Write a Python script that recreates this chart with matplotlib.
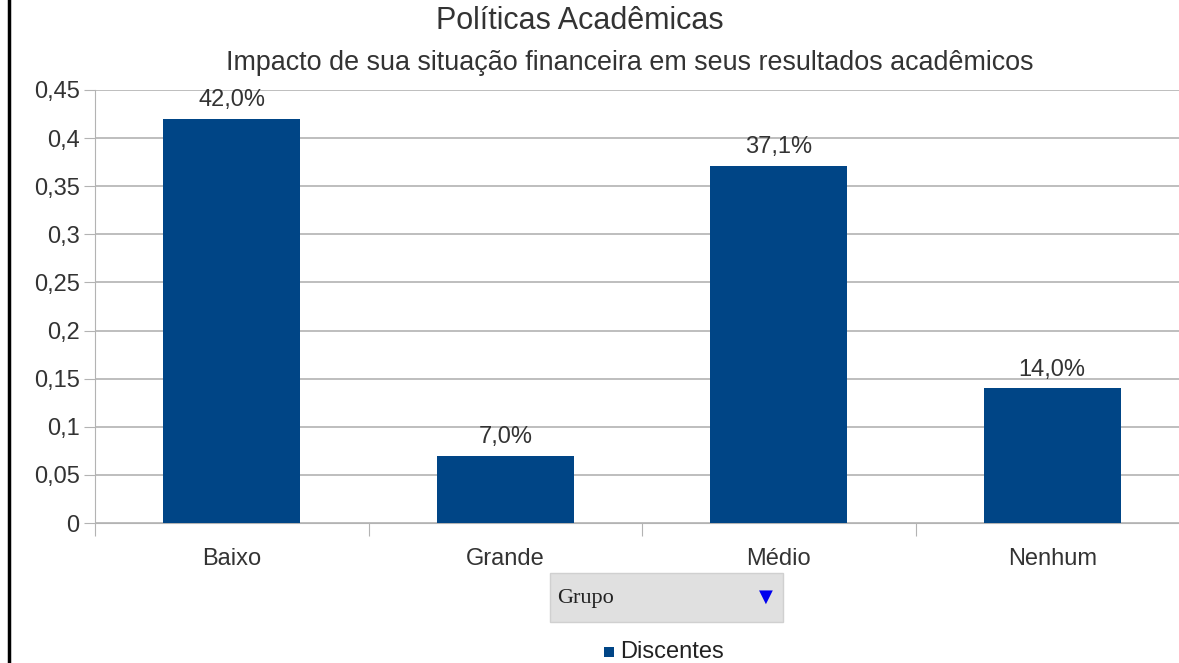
import matplotlib.pyplot as plt
from matplotlib.patches import Rectangle
from matplotlib.lines import Line2D

categorias = ['Baixo', 'Grande', 'Médio', 'Nenhum']
valores = [0.42, 0.07, 0.371, 0.14]
rotulos = ['42,0%', '7,0%', '37,1%', '14,0%']
yticks = [0, 0.05, 0.1, 0.15, 0.2, 0.25, 0.3, 0.35, 0.4, 0.45]
ytick_labels = ['0', '0,05', '0,1', '0,15', '0,2', '0,25', '0,3', '0,35', '0,4', '0,45']

W, H = 1179, 663


def main():
    plt.rcParams['font.family'] = ['Liberation Sans', 'DejaVu Sans']
    fig = plt.figure(figsize=(W / 100, H / 100), dpi=100)
    ax = fig.add_axes([95 / W, 1 - 523 / H, (1189 - 95) / W, (523 - 90) / H])

    x = range(len(categorias))
    ax.bar(x, valores, width=0.5, color='#004586', zorder=3)
    for i, (v, r) in enumerate(zip(valores, rotulos)):
        ax.text(i, v + 0.008, r, ha='center', va='bottom', fontsize=17, color='#333333')

    ax.set_xlim(-0.5, len(categorias) - 0.5)
    ax.set_ylim(0, 0.45)
    ax.set_yticks(yticks)
    ax.set_yticklabels(ytick_labels, fontsize=17, color='#333333')
    ax.grid(axis='y', color='#b3b3b3', lw=1.2, zorder=0)
    ax.set_axisbelow(True)
    for s in ['top', 'right']:
        ax.spines[s].set_visible(False)
    ax.spines['left'].set_color('#b3b3b3')
    ax.spines['bottom'].set_color('#b3b3b3')
    ax.tick_params(axis='y', length=8, color='#b3b3b3', pad=3)

    # ticks nas divisoes entre categorias
    ax.set_xticks([i - 0.5 for i in range(len(categorias))], minor=False)
    ax.set_xticklabels([])
    ax.tick_params(axis='x', length=9, color='#b3b3b3')
    ax.set_xticks(list(x), minor=True)
    ax.set_xticklabels(categorias, minor=True, fontsize=17, color='#333333')
    ax.tick_params(axis='x', which='minor', length=0, pad=18)

    fig.text(580 / W, 1 - 21 / H, 'Políticas Acadêmicas', ha='center', va='center',
             fontsize=22, color='#333333')
    fig.text(630 / W, 1 - 63 / H, 'Impacto de sua situação financeira em seus resultados acadêmicos',
             ha='center', va='center', fontsize=19.4, color='#333333')

    # caixa "Grupo"
    fig.patches.append(Rectangle((550 / W, 1 - 622 / H), 233 / W, 49 / H,
                                 transform=fig.transFigure, facecolor='#e0e0e0',
                                 edgecolor='#d0d0d0', lw=1))
    fig.text(557 / W, 1 - 598 / H, 'Grupo', ha='left', va='center', fontsize=16,
             family='Liberation Serif', color='#222222')
    fig.text(766 / W, 1 - 597 / H, '▼', ha='center', va='center', fontsize=13,
             color='#0000ee', family='DejaVu Sans')

    # legenda
    fig.patches.append(Rectangle((604 / W, 1 - 657 / H), 10 / W, 10 / H,
                                 transform=fig.transFigure, facecolor='#004586'))
    fig.text(620 / W, 1 - 652 / H, 'Discentes', ha='left', va='center', fontsize=17,
             color='#222222')

    # borda esquerda
    fig.lines.append(Line2D([9 / W, 9 / W], [0, 1], transform=fig.transFigure,
                            color='black', lw=2.5))

    fig.savefig('out.png', dpi=100)


if __name__ == '__main__':
    main()
